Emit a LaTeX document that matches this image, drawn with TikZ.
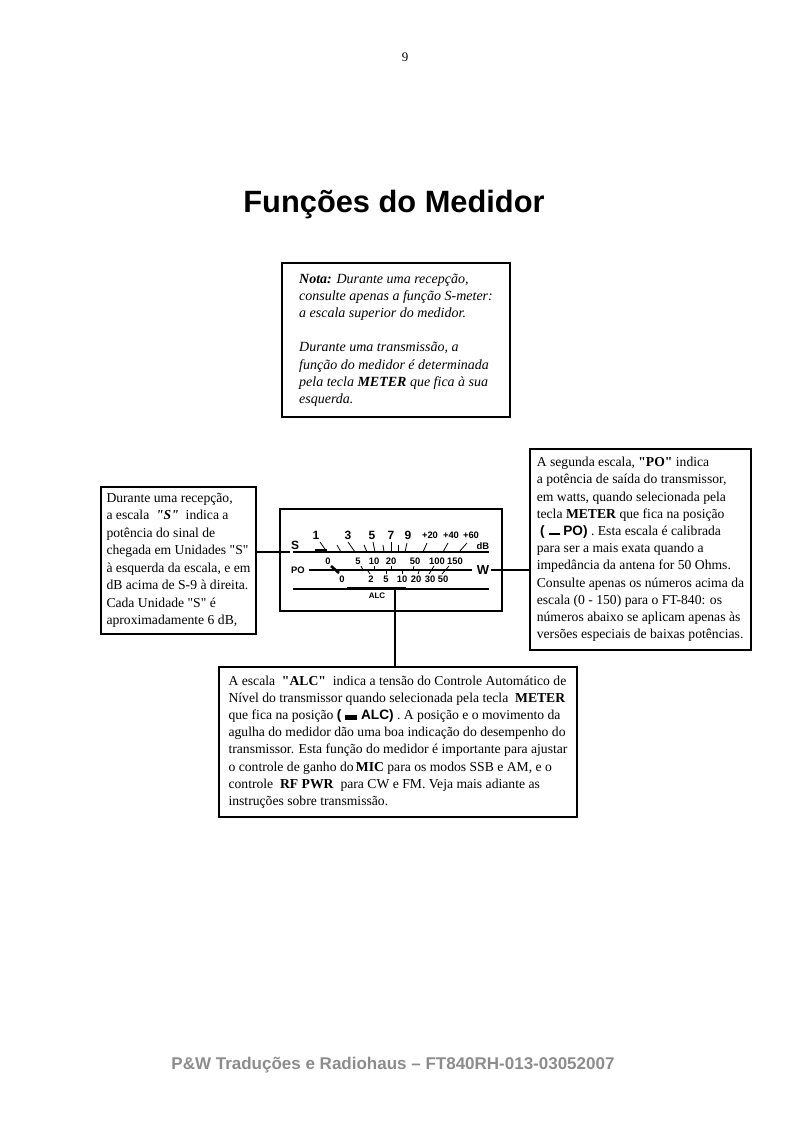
\documentclass[tikz,border=0pt]{standalone}
\usepackage{fontspec}
\setmainfont[Ligatures=TeXOff]{Liberation Serif}
\setsansfont{Liberation Sans}
\newcommand{\posbar}{\rule[0.15ex]{11pt}{1.8pt}}
\newcommand{\posblock}{\rule[0ex]{12pt}{5pt}}

\begin{document}
\begin{tikzpicture}[
  x=1pt, y=-1pt,
  every node/.style={inner sep=0pt},
  textbox/.style={draw, line width=1.2pt, align=left, font=\fontsize{13.65}{17.2}\selectfont},
  scaleline/.style={line width=1.1pt},
  tick/.style={line width=0.8pt},
  needle/.style={line width=2.6pt},
  bigmark/.style={font=\fontsize{12}{13}\sffamily\bfseries},
  smallmark/.style={font=\fontsize{9.4}{10}\sffamily\bfseries},
  lead/.style={line width=1.2pt},
]
  \useasboundingbox (0,0) rectangle (793,1122);

  % Page furniture
  \node[font=\fontsize{13}{15}\selectfont] (pagenum) at (405,57) {9};
  \node[font=\fontsize{30.8}{36}\sffamily\bfseries] (title) at (394,205) {Funções do Medidor};
  \node[font=\fontsize{17}{20}\sffamily\bfseries, text=black!45] (footer) at (393,1065)
    {P\&W Traduções e Radiohaus – FT840RH-013-03052007};

  % Note
  \node[textbox, font=\fontsize{14}{17.2}\selectfont, minimum width=228, minimum height=154] (notebox) at (396,340) {%
    \textit{\textbf{Nota:} Durante uma recepção,}\\
    \textit{consulte apenas a função S-meter:}\\
    \textit{a escala superior do medidor.}\\[17.2pt]
    \textit{Durante uma transmissão, a}\\
    \textit{função do medidor é determinada}\\
    \textit{pela tecla \textbf{METER} que fica à sua}\\
    \textit{esquerda.}};

  % Left, right and lower text boxes
  \node[textbox, font=\fontsize{13.65}{17.5}\selectfont, minimum width=155, minimum height=147] (sbox) at (178.5,560.5) {%
    Durante uma recepção,\\
    a escala \ \textbf{\textit{"S"}} \ indica a\\
    potência do sinal de\\
    chegada em Unidades "S"\\
    à esquerda da escala, e em\\
    dB acima de S-9 à direita.\\
    Cada Unidade "S" é\\
    aproximadamente 6 dB,};
  \node[textbox, minimum width=221, minimum height=201] (pobox) at (640.5,549.5) {%
    A segunda escala, \textbf{"PO"} indica\\
    a potência de saída do transmissor,\\
    em watts, quando selecionada pela\\
    tecla \textbf{METER} que fica na posição\\
    \ {\sffamily\bfseries( \posbar\ PO)} . Esta escala é calibrada\\
    para ser a mais exata quando a\\
    impedância da antena for 50 Ohms.\\
    Consulte apenas os números acima da\\
    escala (0 - 150) para o FT-840: os\\
    números abaixo se aplicam apenas às\\
    versões especiais de baixas potências.};
  \node[textbox, minimum width=358, minimum height=150] (alcbox) at (398,742) {%
    A escala \ \textbf{"ALC"} \ indica a tensão do Controle Automático de\\
    Nível do transmissor quando selecionada pela tecla \ \textbf{METER}\\
    que fica na posição {\sffamily\bfseries( \posblock\ ALC)} . A posição e o movimento da\\
    agulha do medidor dão uma boa indicação do desempenho do\\
    transmissor. Esta função do medidor é importante para ajustar\\
    o controle de ganho do\,\textbf{MIC} para os modos SSB e AM, e o\\
    controle \ \textbf{RF PWR} \ para CW e FM. Veja mais adiante as\\
    instruções sobre transmissão.};

  % Meter face
  \node[draw, line width=1.4pt, minimum width=222, minimum height=102] (meter) at (391,560) {};

  \coordinate (sstart) at (293,552);
  \coordinate (send) at (489,552);
  \coordinate (postart) at (309,570);
  \coordinate (poend) at (472,570);
  \coordinate (alcstart) at (293,589);
  \coordinate (alcend) at (489,589);
  \coordinate (alcjoin) at (395,589);
  \coordinate (sjoin) at (290,552);

  \draw[scaleline] (sstart) -- (send);
  \draw[scaleline] (postart) -- (poend);
  \draw[scaleline] (alcstart) -- (alcend);

  % S scale
  \foreach \xa/\xb/\ya in {320/327/542, 337/341/545, 348/355/542, 364/367/545, 373/375/542,
                           383/384/545, 391/391/542, 398/398/545, 407/405/543, 427/423/543,
                           448/443/543, 467/459/543}
    \draw[tick] (\xa,\ya) -- (\xb,552);
  \foreach \xa/\lab in {316/1, 348/3, 372/5, 391/7, 408/9}
    \node[bigmark] (s\lab) at (\xa,535) {\lab};
  \foreach \xa/\lab in {430/+20, 451/+40, 471/+60}
    \node[smallmark] (s\lab) at (\xa,535.5) {\lab};
  \draw[needle] (315,550.5) -- (327,550.5);
  \node[bigmark] (slabel) at (295,545) {S};
  \node[smallmark] (dblabel) at (483,546) {dB};

  % PO scale
  \foreach \xa/\ya/\xb/\yb in {361/566/363/570, 374/566/374/570, 391/566/391/570, 414/566/413/570,
                               434/566/429/574, 449/566/442/574, 368/571/370/574, 386/571/386/574,
                               402/571/402/574, 419/571/418/574}
    \draw[tick] (\xa,\ya) -- (\xb,\yb);
  \draw[needle] (331,566) -- (339,573);
  \foreach \xa/\lab in {328/0, 358/5, 374/10, 391/20, 415/50, 437/100, 455/150}
    \node[smallmark] (up\lab) at (\xa,561) {\lab};
  \foreach \xa/\lab in {342/0, 371/2, 386/5, 402/10, 416/20, 430/30, 443/50}
    \node[smallmark] (lo\lab) at (\xa,579) {\lab};
  \node[smallmark] (polabel) at (298,570) {PO};
  \node[bigmark, font=\fontsize{13}{14}\sffamily\bfseries] (wlabel) at (483,570) {W};

  % ALC scale
  \draw[line width=3pt] (347,588) -- (406,588);
  \draw[line width=1.8pt] (331,589) -- (420,589);
  \node[smallmark, font=\fontsize{8}{9}\sffamily\bfseries] (alclabel) at (377,596) {ALC};

  % Leaders
  \draw[lead] (sbox.east |- sjoin) -- (sjoin);
  \draw[lead] (wlabel.east) ++(2,0) coordinate (wjoin) -- (pobox.west |- wjoin);
  \draw[lead] (alcjoin) -- (alcbox.north -| alcjoin);
\end{tikzpicture}
\end{document}
